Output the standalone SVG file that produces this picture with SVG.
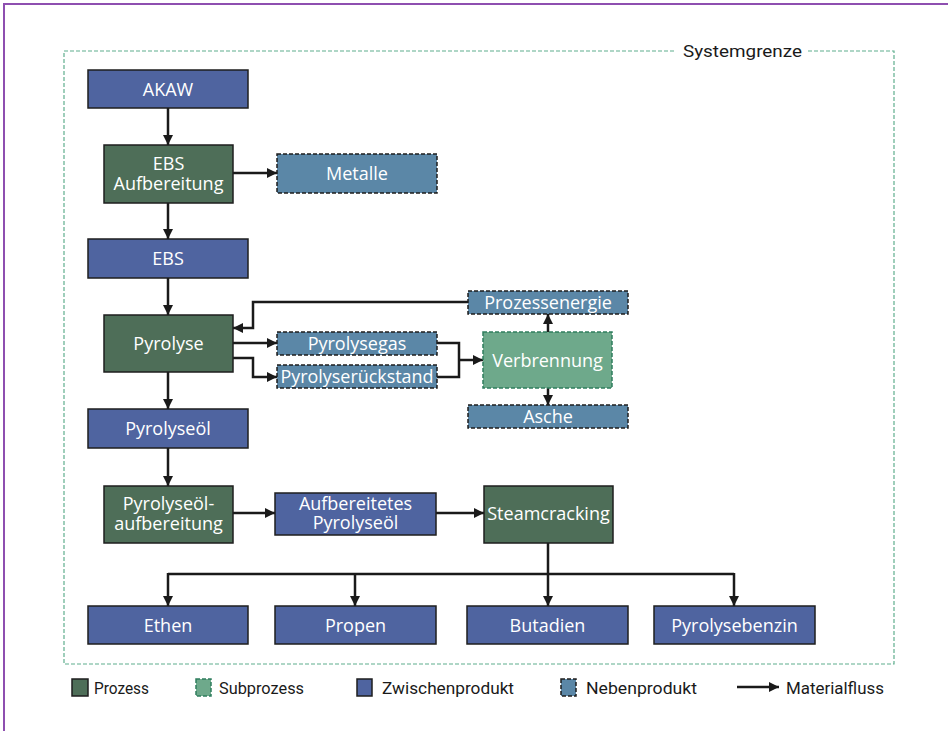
<svg xmlns="http://www.w3.org/2000/svg" width="948" height="731" viewBox="0 0 948 731">
<defs>
<marker id="ah" viewBox="0 0 10 10" refX="10" refY="5" markerWidth="4" markerHeight="4" orient="auto" markerUnits="strokeWidth">
<path d="M0,0 L10,5 L0,10 z" fill="#1a1a1a"/>
</marker>
<style>
.proz{fill:#4e6e58;stroke:#1e1e1e;stroke-width:1.5}
.sub{fill:#6ea98b;stroke:#2f7d5e;stroke-width:1.5;stroke-dasharray:4 2}
.zw{fill:#4f64a0;stroke:#1e1e1e;stroke-width:1.5}
.neb{fill:#5b87a7;stroke:#1e1e1e;stroke-width:1.5;stroke-dasharray:4 2}
.t{font-family:"Open Sans","Noto Sans",sans-serif;font-size:18px;fill:#ffffff;text-anchor:middle}
.c{fill:none;stroke:#1a1a1a;stroke-width:2.5;marker-end:url(#ah)}
.cn{fill:none;stroke:#1a1a1a;stroke-width:2.5}
.lg{font-family:Roboto,"Open Sans",sans-serif;font-size:17px;fill:#1a1a1a}
</style>
</defs>
<rect width="948" height="731" fill="#ffffff"/>
<path d="M4,731 L4,4 L948,4" fill="none" stroke="#8e4fb0" stroke-width="2"/>
<g id="systemgrenze">
<rect x="64" y="51" width="830" height="613" fill="none" stroke="#5fae8e" stroke-width="1.2" stroke-dasharray="4 2"/>
<rect x="676" y="40" width="132" height="22" fill="#ffffff"/>
<text x="683" y="57" class="lg" textLength="119" lengthAdjust="spacingAndGlyphs">Systemgrenze</text>
</g>
<g id="connectors">
<path class="c" d="M168,108 L168,145"/>
<path class="c" d="M233,173 L277,173"/>
<path class="c" d="M168,203 L168,239"/>
<path class="c" d="M168,278 L168,315"/>
<path class="c" d="M468,302 L253,302 L253,328 L233,328"/>
<path class="c" d="M233,343 L277,343"/>
<path class="c" d="M233,358 L253,358 L253,377 L277,377"/>
<path class="cn" d="M437,343 L459,343 L459,377 L437,377"/>
<path class="c" d="M459,360 L483,360"/>
<path class="c" d="M548,332 L548,314"/>
<path class="c" d="M548,388 L548,405"/>
<path class="c" d="M168,372 L168,409"/>
<path class="c" d="M168,448 L168,486"/>
<path class="c" d="M233,513 L275,513"/>
<path class="c" d="M436,513 L484,513"/>
<path class="cn" d="M548,543 L548,574 M168,574 L734,574"/>
<path class="c" d="M168,573 L168,606"/>
<path class="c" d="M355,573 L355,606"/>
<path class="c" d="M548,573 L548,606"/>
<path class="c" d="M734,573 L734,606"/>
</g>
<g id="akaw"><rect class="zw" x="88" y="70" width="160" height="38"/><text class="t" x="168" y="95.5">AKAW</text></g>
<g id="ebs-aufbereitung"><rect class="proz" x="104" y="145" width="129" height="58"/><text class="t" x="168.5" y="170">EBS</text><text class="t" x="168.5" y="190">Aufbereitung</text></g>
<g id="metalle"><rect class="neb" x="277" y="154" width="160" height="39"/><text class="t" x="357" y="180">Metalle</text></g>
<g id="ebs"><rect class="zw" x="88" y="239" width="160" height="39"/><text class="t" x="168" y="265">EBS</text></g>
<g id="pyrolyse"><rect class="proz" x="104" y="315" width="129" height="57"/><text class="t" x="168.5" y="350">Pyrolyse</text></g>
<g id="prozessenergie"><rect class="neb" x="468" y="291" width="160" height="23"/><text class="t" x="548" y="309">Prozessenergie</text></g>
<g id="pyrolysegas"><rect class="neb" x="277" y="332" width="160" height="23"/><text class="t" x="357" y="350">Pyrolysegas</text></g>
<g id="pyrolyserueckstand"><rect class="neb" x="277" y="365" width="160" height="23"/><text class="t" x="357" y="383" textLength="153" lengthAdjust="spacingAndGlyphs">Pyrolyserückstand</text></g>
<g id="verbrennung"><rect class="sub" x="483" y="332" width="129" height="56"/><text class="t" x="547.5" y="366.5">Verbrennung</text></g>
<g id="asche"><rect class="neb" x="468" y="405" width="160" height="23"/><text class="t" x="548" y="423">Asche</text></g>
<g id="pyrolyseoel"><rect class="zw" x="88" y="409" width="160" height="39"/><text class="t" x="168" y="435">Pyrolyseöl</text></g>
<g id="pyrolyseoel-aufbereitung"><rect class="proz" x="104" y="486" width="129" height="57"/><text class="t" x="168.5" y="510">Pyrolyseöl-</text><text class="t" x="168.5" y="530">aufbereitung</text></g>
<g id="aufbereitetes-pyrolyseoel"><rect class="zw" x="275" y="493" width="161" height="42"/><text class="t" x="355.5" y="510">Aufbereitetes</text><text class="t" x="355.5" y="529">Pyrolyseöl</text></g>
<g id="steamcracking"><rect class="proz" x="484" y="486" width="129" height="57"/><text class="t" x="548.5" y="520">Steamcracking</text></g>
<g id="ethen"><rect class="zw" x="88" y="606" width="160" height="38"/><text class="t" x="168" y="631.5">Ethen</text></g>
<g id="propen"><rect class="zw" x="275" y="606" width="161" height="38"/><text class="t" x="355.5" y="631.5">Propen</text></g>
<g id="butadien"><rect class="zw" x="467" y="606" width="161" height="38"/><text class="t" x="547.5" y="631.5">Butadien</text></g>
<g id="pyrolysebenzin"><rect class="zw" x="654" y="606" width="161" height="38"/><text class="t" x="734.5" y="631.5">Pyrolysebenzin</text></g>
<g id="legend">
<rect class="proz" x="72" y="679" width="16" height="17"/><text class="lg" x="94" y="694" textLength="55" lengthAdjust="spacingAndGlyphs">Prozess</text>
<rect class="sub" x="196" y="679" width="15" height="17" stroke-dasharray="2 1.5"/><text class="lg" x="219" y="694" textLength="85" lengthAdjust="spacingAndGlyphs">Subprozess</text>
<rect class="zw" x="357" y="679" width="15" height="17"/><text class="lg" x="382" y="694" textLength="132" lengthAdjust="spacingAndGlyphs">Zwischenprodukt</text>
<rect class="neb" x="561" y="679" width="15" height="17" stroke-dasharray="2 1.5"/><text class="lg" x="586" y="694" textLength="111" lengthAdjust="spacingAndGlyphs">Nebenprodukt</text>
<path class="c" d="M737,687 L779,687"/><text class="lg" x="786" y="694" textLength="98" lengthAdjust="spacingAndGlyphs">Materialfluss</text>
</g>
</svg>
